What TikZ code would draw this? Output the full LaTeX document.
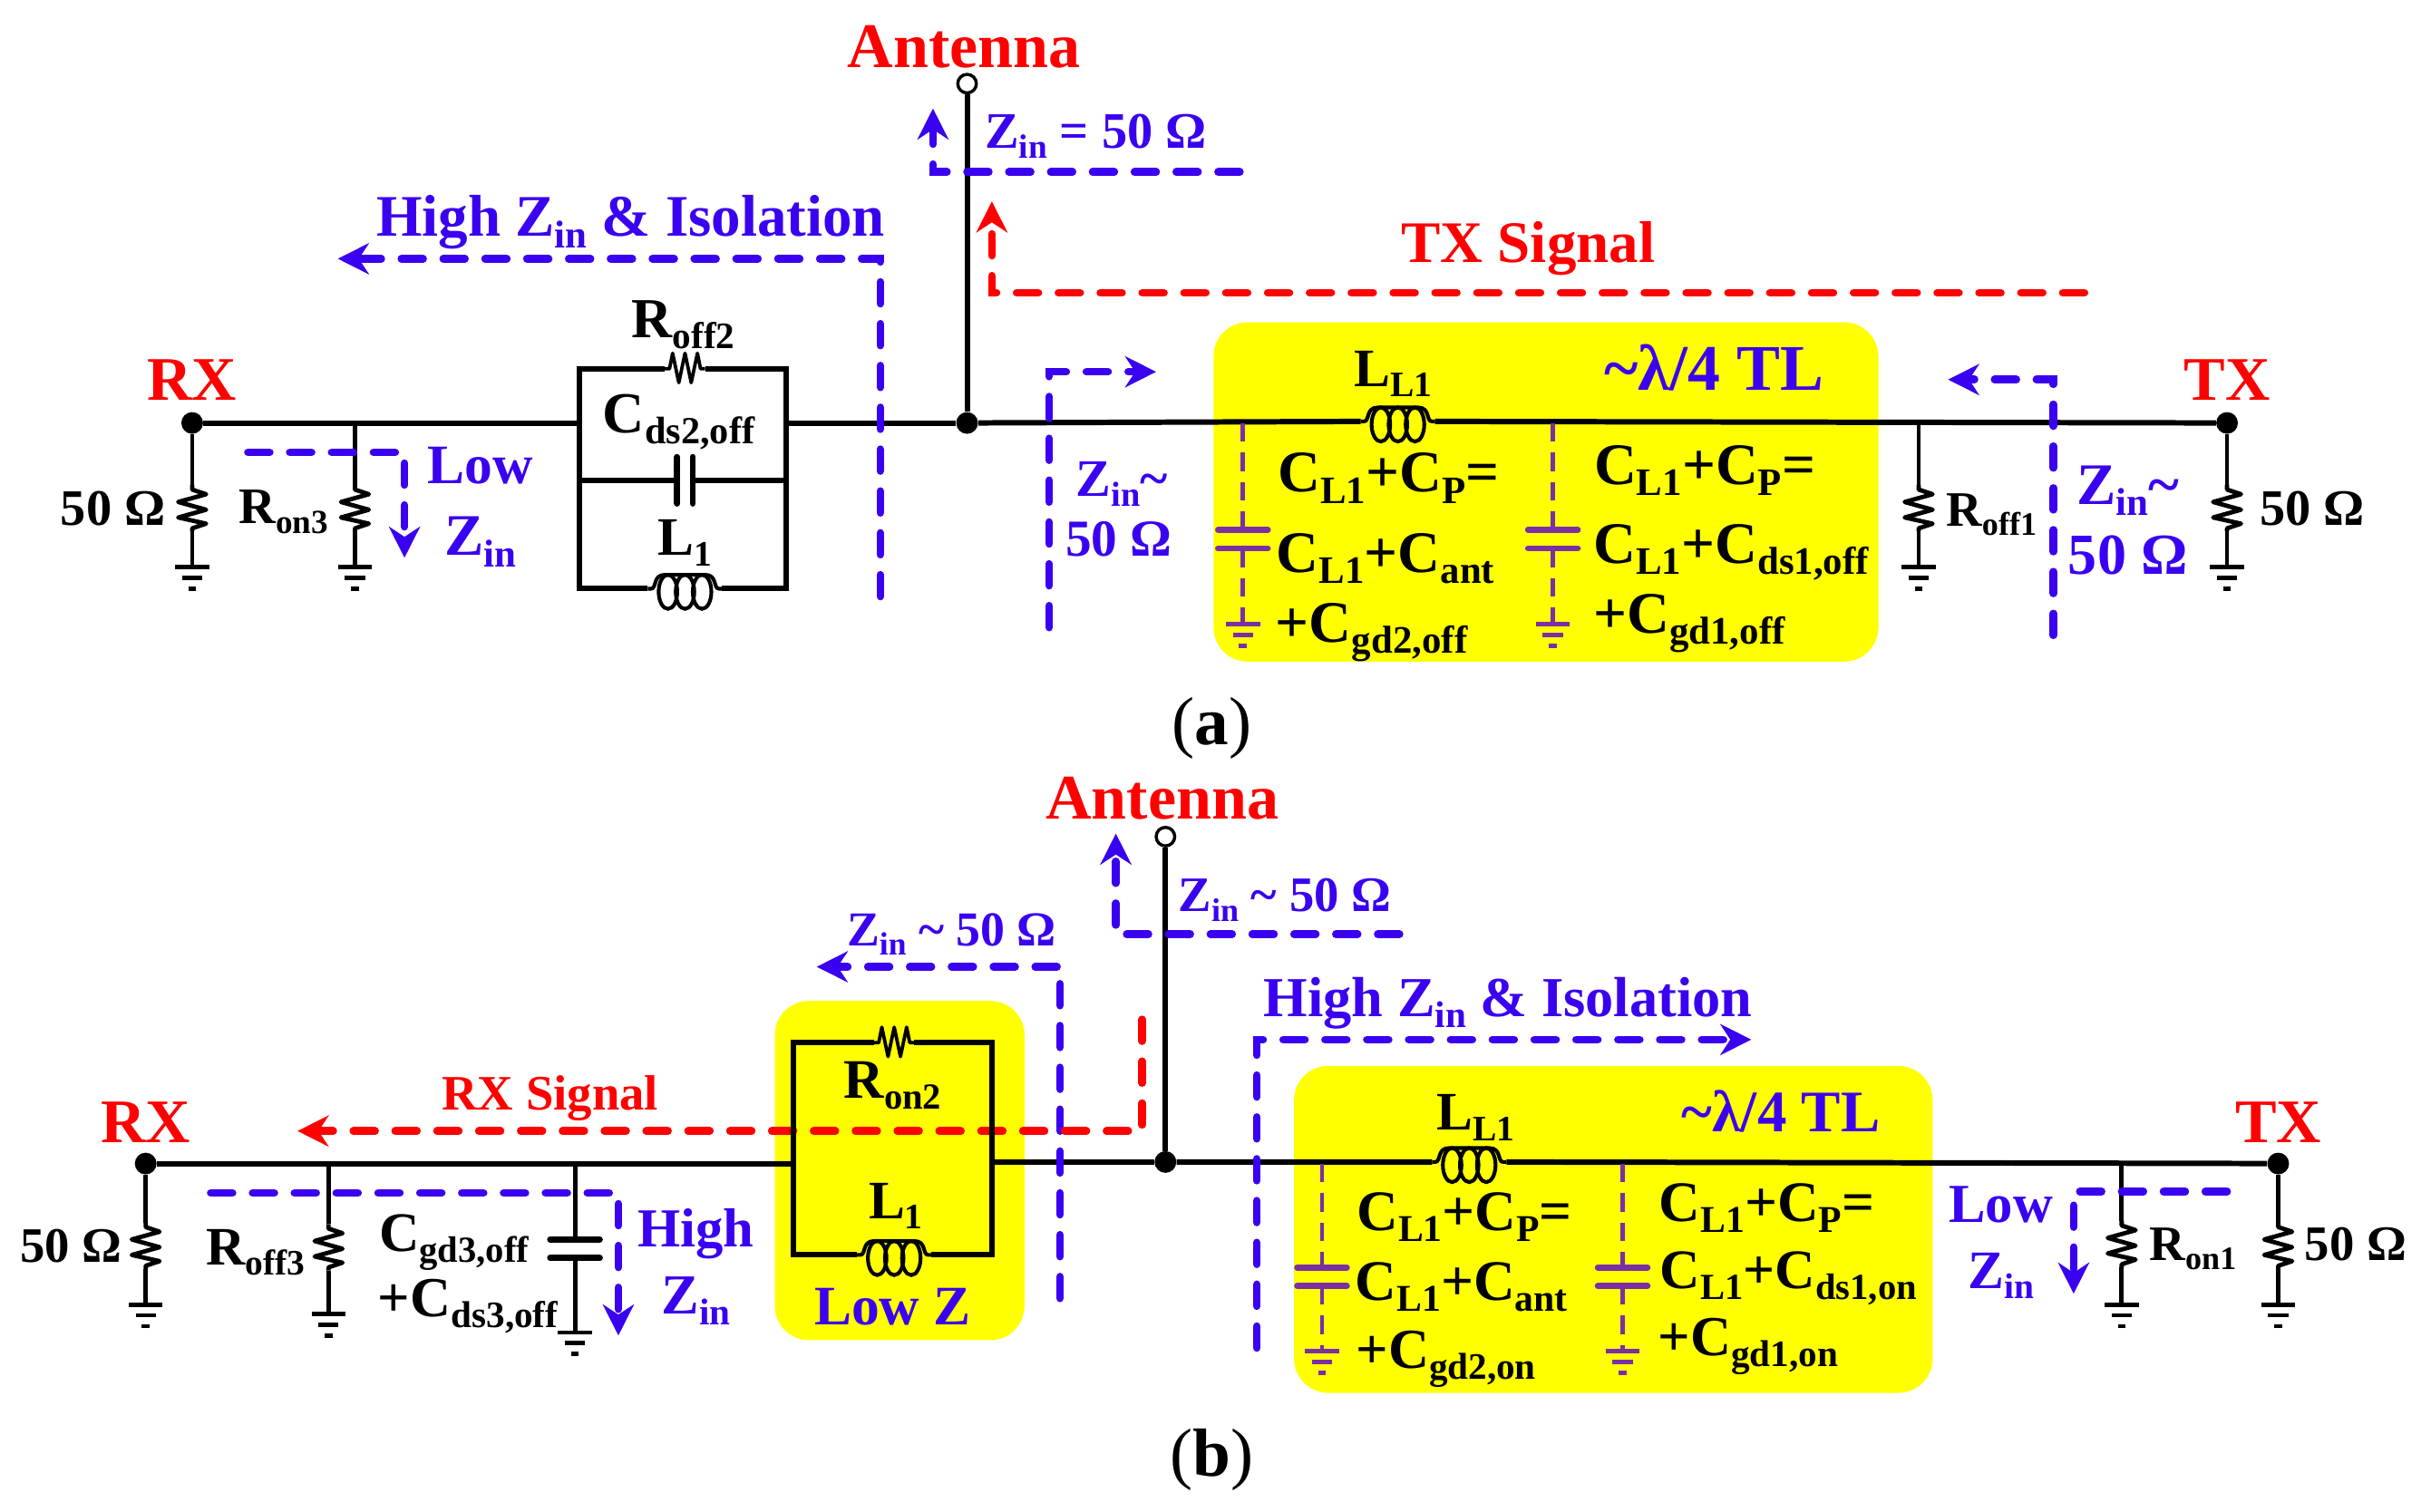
\documentclass[tikz,border=0pt]{standalone}
\usepackage{fontspec}
\setmainfont{Liberation Serif}
\usetikzlibrary{arrows.meta}
\definecolor{zb}{HTML}{3A00F0}
\definecolor{capp}{HTML}{7A2FA5}
\definecolor{yl}{RGB}{255,255,0}
\definecolor{rd}{RGB}{255,0,0}
\newcommand{\fsz}[1]{\fontsize{#1}{#1}\selectfont\bfseries}
\newcommand{\sbs}[1]{\raisebox{-.19em}{\scalebox{.66}{#1}}}
\tikzset{
  t/.style={inner sep=0,anchor=base,yshift={-.33pt*#1},font=\fsz{#1}},
  wire/.style={line width=3.5pt,line join=miter},
  thin wire/.style={line width=2.8pt},
  zpath/.style={zb,line width=5pt,line cap=round,dash pattern=on 14pt off 13pt,-{Stealth[length=20pt,width=20pt]}},
  rpath/.style={zpath,rd},
  cdash/.style={capp,line width=2.8pt,dash pattern=on 12pt off 7pt},
  dot/.style={circle,fill=black,inner sep=0,minimum size=14pt},
  port/.style={circle,draw=black,fill=white,line width=2pt,inner sep=0,minimum size=12pt},
  yel/.style={fill=yl,rounded corners=22pt},
  pics/vres/.style={code={
    \coordinate (-a) at (0,-15); \coordinate (-b) at (0,15);
    \draw[line width=2.8pt,line join=round] (0,-15) -- (0,-12) -- (9,-9) -- (-9,-4) -- (9,1) -- (-9,6) -- (9,10) -- (0,13) -- (0,15);
  }},
  pics/hres/.style={code={
    \coordinate (-a) at (-13,0); \coordinate (-b) at (13,0);
    \draw[line width=2.2pt,line join=round] (-13,0) -- (-10,0) -- (-8,-10) -- (-4,9) -- (0,-10) -- (4,9) -- (8,-10) -- (10,0) -- (13,0);
  }},
  pics/ind/.style={code={
    \coordinate (-a) at (-24,0); \coordinate (-b) at (24,0);
    \draw[line width=2.4pt] (-24,0) -- (-22,0) .. controls (-18,0) and (-21,-9) .. (-13,-9) -- (13,-9) .. controls (21,-9) and (18,0) .. (22,0) -- (24,0);
    \foreach \cx in {-11,0,11} \draw[line width=2.4pt] (\cx,2) ellipse (6pt and 11pt);
  }},
  pics/gnd/.style={code={
    \coordinate (-t) at (0,0);
    \draw[#1,line width=2.8pt] (-11,0) -- (11,0) (-6.5,7) -- (6.5,7) (-2.5,14) -- (2.5,14);
  }},
  pics/gnd/.default=black,
  pics/vcap/.style={code={
    \coordinate (-a) at (0,-6); \coordinate (-b) at (0,6);
    \draw[#1,line width=4pt,line cap=round] (-16,-6) -- (16,-6) (-16,6) -- (16,6);
  }},
  pics/vcap/.default=black,
  pics/hcap/.style={code={
    \coordinate (-a) at (-5,0); \coordinate (-b) at (5,0);
    \draw[line width=4pt,line cap=round] (-5,-15) -- (-5,15) (5,-15) -- (5,15);
  }},
}
\begin{document}
\begin{tikzpicture}[x=1pt,y=-1pt]
\useasboundingbox (0,0) rectangle (1568.6,975.9);
\fill[white] (0,0) rectangle (1568.6,975.9);
% yellow panels
\fill[yel] (783,208) rectangle (1212,427);
\fill[yel] (500,646) rectangle (661,865);
\fill[yel] (835,688) rectangle (1247,899);

%%%%% (a) %%%%%
\node[port] (anta) at (624,54) {};
\node[dot] (ja) at (624,273) {};
\node[dot] (rxa) at (124,273) {};
\node[dot] (txa) at (1437,273) {};
\draw[wire] (anta) -- (ja);
% RX branch
\pic (ra1) at (124,328) {vres};
\pic (ga1) at (124,366) {gnd};
\pic (ra2) at (229,328) {vres};
\pic (ga2) at (229,366) {gnd};
\draw[thin wire] (rxa) -- (ra1-a) (ra1-b) -- (ga1-t);
\coordinate (ta2) at (229,273);
\draw[thin wire] (ta2) -- (ra2-a) (ra2-b) -- (ga2-t);
% parallel box
\coordinate (bal) at (374,273);
\coordinate (bar) at (507,273);
\coordinate (cal) at (374,310);
\coordinate (car) at (507,310);
\pic (ra3) at (442,238) {hres};
\pic (ca3) at (442,310) {hcap};
\pic (la3) at (442,380) {ind};
\draw[wire] (ra3-a) -| (bal) |- (la3-a);
\draw[wire] (ra3-b) -| (bar) |- (la3-b);
\draw[wire] (cal) -- (ca3-a) (ca3-b) -- (car);
\draw[wire] (rxa) -- (bal) (bar) -- (ja);
% TL
\pic (la4) at (902,272) {ind};
\draw[wire] (ja) -- (la4-a) (la4-b) -- (txa);
\coordinate (ta5) at (802,273);
\coordinate (ta6) at (1002,273);
\pic (ca5) at (802,348) {vcap=capp};
\pic (ga5) at (802,403) {gnd=capp};
\pic (ca6) at (1002,348) {vcap=capp};
\pic (ga6) at (1002,403) {gnd=capp};
\draw[cdash] (ta5) -- (ca5-a) (ca5-b) -- (ga5-t);
\draw[cdash] (ta6) -- (ca6-a) (ca6-b) -- (ga6-t);
% TX branch
\coordinate (ta7) at (1238,273);
\pic (ra7) at (1238,328) {vres};
\pic (ga7) at (1238,366) {gnd};
\draw[thin wire] (ta7) -- (ra7-a) (ra7-b) -- (ga7-t);
\pic (ra8) at (1437,328) {vres};
\pic (ga8) at (1437,366) {gnd};
\draw[thin wire] (txa) -- (ra8-a) (ra8-b) -- (ga8-t);
% impedance paths
\coordinate (za1s) at (800,111); \coordinate (za1e) at (602,70);
\draw[zpath] (za1s) -| (za1e);
\coordinate (za2s) at (568,385); \coordinate (za2e) at (218,167);
\draw[zpath] (za2s) |- (za2e);
\coordinate (za3s) at (160,292); \coordinate (za3e) at (261,360);
\draw[zpath] (za3s) -| (za3e);
\coordinate (za4s) at (677,405); \coordinate (za4e) at (746,240);
\draw[zpath] (za4s) |- (za4e);
\coordinate (za5s) at (1325,410); \coordinate (za5e) at (1257,245);
\draw[zpath] (za5s) |- (za5e);
\coordinate (sa1s) at (1345,189); \coordinate (sa1e) at (640,130);
\draw[rpath] (sa1s) -| (sa1e);
% labels
\node[t=41,rd] (lAnta) at (622,30) {Antenna};
\node[t=40,rd] (lRXa) at (124,245) {RX};
\node[t=40,rd] (lTXa) at (1437,245) {TX};
\node[t=38,rd] (lTXs) at (986,157) {TX Signal};
\node[t=33,zb] (lZa1) at (707,85) {Z\sbs{in} = 50 Ω};
\node[t=38,zb] (lZa2) at (407,140) {High Z\sbs{in} \& Isolation};
\node[t=36,zb] (lLowa) at (310,300) {Low};
\node[t=38,zb] (lZa3) at (310,346) {Z\sbs{in}};
\node[t=34,zb] (lZa4) at (724,309) {Z\sbs{in}\textasciitilde};
\node[t=33.5,zb] (lZa4b) at (722,348) {50 Ω};
\node[t=38,zb] (lZa5) at (1373,313) {Z\sbs{in}\textasciitilde};
\node[t=37.5,zb] (lZa5b) at (1373,358) {50 Ω};
\node[t=33] (l50a1) at (73,328) {50 Ω};
\node[t=33] (l50a2) at (1492,328) {50 Ω};
\node[t=33] (lRon3) at (183,327) {R\sbs{on3}};
\node[t=36.5] (lRoff2) at (441,206) {R\sbs{off2}};
\node[t=37.5] (lCds2) at (438,267) {C\sbs{ds2,off}};
\node[t=35] (lL1a) at (442,347) {L\sbs{1}};
\node[t=32] (lRoff1) at (1285,329) {R\sbs{off1}};
\node[t=35] (lLL1a) at (899,238) {L\sbs{L1}};
\node[t=42,zb] (lTLa) at (1106,238) {\textasciitilde λ/4 TL};
\node[t=38] (lCa1) at (896,305) {C\sbs{L1}+C\sbs{P}=};
\node[t=38] (lCa2) at (894,357) {C\sbs{L1}+C\sbs{ant}};
\node[t=38] (lCa3) at (885,402) {+C\sbs{gd2,off}};
\node[t=38] (lCa4) at (1100,300) {C\sbs{L1}+C\sbs{P}=};
\node[t=38] (lCa5) at (1117,351) {C\sbs{L1}+C\sbs{ds1,off}};
\node[t=38] (lCa6) at (1090,396) {+C\sbs{gd1,off}};
\node[t=44,font=\fontsize{44}{44}\selectfont] (lsa) at (782,466) {(\textbf{a})};

%%%%% (b) %%%%%
\node[port] (antb) at (752,540) {};
\node[dot] (jb) at (752,750) {};
\node[dot] (rxb) at (94,751) {};
\node[dot] (txb) at (1470,751) {};
\draw[wire] (antb) -- (jb);
\pic (rb1) at (94,804) {vres};
\pic (gb1) at (94,842) {gnd};
\draw[thin wire] (rxb) -- (rb1-a) (rb1-b) -- (gb1-t);
\coordinate (tb2) at (212,751);
\pic (rb2) at (212,805) {vres};
\pic (gb2) at (212,848) {gnd};
\draw[thin wire] (tb2) -- (rb2-a) (rb2-b) -- (gb2-t);
\coordinate (tb3) at (371,751);
\pic (cb3) at (371,806) {vcap};
\pic (gb3) at (371,860) {gnd};
\draw[thin wire] (tb3) -- (cb3-a) (cb3-b) -- (gb3-t);
\coordinate (bbl) at (512,751);
\coordinate (bbr) at (640,750);
\draw[wire] (rxb) -- (bbl) (bbr) -- (jb);
\pic (lb4) at (948,750) {ind};
\draw[wire] (jb) -- (lb4-a) (lb4-b) -- (txb);
\coordinate (tb5) at (853,751);
\coordinate (tb6) at (1047,751);
\pic (cb5) at (853,824) {vcap=capp};
\pic (gb5) at (853,872) {gnd=capp};
\pic (cb6) at (1047,824) {vcap=capp};
\pic (gb6) at (1047,872) {gnd=capp};
\draw[cdash] (tb5) -- (cb5-a) (cb5-b) -- (gb5-t);
\draw[cdash] (tb6) -- (cb6-a) (cb6-b) -- (gb6-t);
\coordinate (tb7) at (1369,751);
\pic (rb7) at (1369,803) {vres};
\pic (gb7) at (1369,842) {gnd};
\draw[thin wire] (tb7) -- (rb7-a) (rb7-b) -- (gb7-t);
\pic (rb8) at (1470,804) {vres};
\pic (gb8) at (1470,842) {gnd};
\draw[thin wire] (txb) -- (rb8-a) (rb8-b) -- (gb8-t);
% impedance paths
\coordinate (zb1s) at (903,603); \coordinate (zb1e) at (720,538);
\draw[zpath] (zb1s) -| (zb1e);
\coordinate (zb2s) at (684,838); \coordinate (zb2e) at (527,624);
\draw[zpath] (zb2s) |- (zb2e);
\coordinate (zb3s) at (811,870); \coordinate (zb3e) at (1130,671);
\draw[zpath] (zb3s) |- (zb3e);
\coordinate (zb4s) at (136,770); \coordinate (zb4e) at (399,862);
\draw[zpath] (zb4s) -| (zb4e);
\coordinate (zb5s) at (1437,769); \coordinate (zb5e) at (1338,835);
\draw[zpath] (zb5s) -| (zb5e);
\coordinate (sb1s) at (737,658); \coordinate (sb1e) at (192,730);
\draw[rpath] (sb1s) |- (sb1e);
% parallel box on top of the RX signal
\pic (rb9) at (577,673) {hres};
\pic (lb9) at (577,810) {ind};
\draw[wire] (rb9-a) -| (bbl) |- (lb9-a);
\draw[wire] (rb9-b) -| (bbr) |- (lb9-b);
% labels
\node[t=41,rd] (lAntb) at (750,515) {Antenna};
\node[t=40,rd] (lRXb) at (94,724) {RX};
\node[t=40,rd] (lTXb) at (1470,724) {TX};
\node[t=32,rd] (lRXs) at (355,706) {RX Signal};
\node[t=32,zb] (lZb1) at (829,578) {Z\sbs{in} \textasciitilde{} 50 Ω};
\node[t=31.5,zb] (lZb2) at (614,600) {Z\sbs{in} \textasciitilde{} 50 Ω};
\node[t=36.5,zb] (lZb3) at (973,644) {High Z\sbs{in} \& Isolation};
\node[t=35.5,zb] (lHigh) at (449,793) {High};
\node[t=36.5,zb] (lZb4) at (449,836) {Z\sbs{in}};
\node[t=35.5,zb] (lLowb) at (1291,777) {Low};
\node[t=35,zb] (lZb5) at (1291,820) {Z\sbs{in}};
\node[t=36,zb] (lLowZ) at (576,843) {Low Z};
\node[t=32] (l50b1) at (46,804) {50 Ω};
\node[t=32] (l50b2) at (1520,803) {50 Ω};
\node[t=35] (lRoff3) at (165,805) {R\sbs{off3}};
\node[t=32] (lRon1) at (1415,803) {R\sbs{on1}};
\node[t=36] (lCgd3) at (293,796) {C\sbs{gd3,off}};
\node[t=36.5] (lCds3) at (302,838) {+C\sbs{ds3,off}};
\node[t=36] (lRon2) at (576,697) {R\sbs{on2}};
\node[t=35] (lL1b) at (578,775) {L\sbs{1}};
\node[t=35] (lLL1b) at (952,718) {L\sbs{L1}};
\node[t=38,zb] (lTLb) at (1149,718) {\textasciitilde λ/4 TL};
\node[t=37] (lCb1) at (945,782) {C\sbs{L1}+C\sbs{P}=};
\node[t=37] (lCb2) at (943,827) {C\sbs{L1}+C\sbs{ant}};
\node[t=36.5] (lCb3) at (933,871) {+C\sbs{gd2,on}};
\node[t=37] (lCb4) at (1140,776) {C\sbs{L1}+C\sbs{P}=};
\node[t=36] (lCb5) at (1154,820) {C\sbs{L1}+C\sbs{ds1,on}};
\node[t=36.5] (lCb6) at (1128,863) {+C\sbs{gd1,on}};
\node[t=44,font=\fontsize{44}{44}\selectfont] (lsb) at (782,938) {(\textbf{b})};
\end{tikzpicture}
\end{document}
